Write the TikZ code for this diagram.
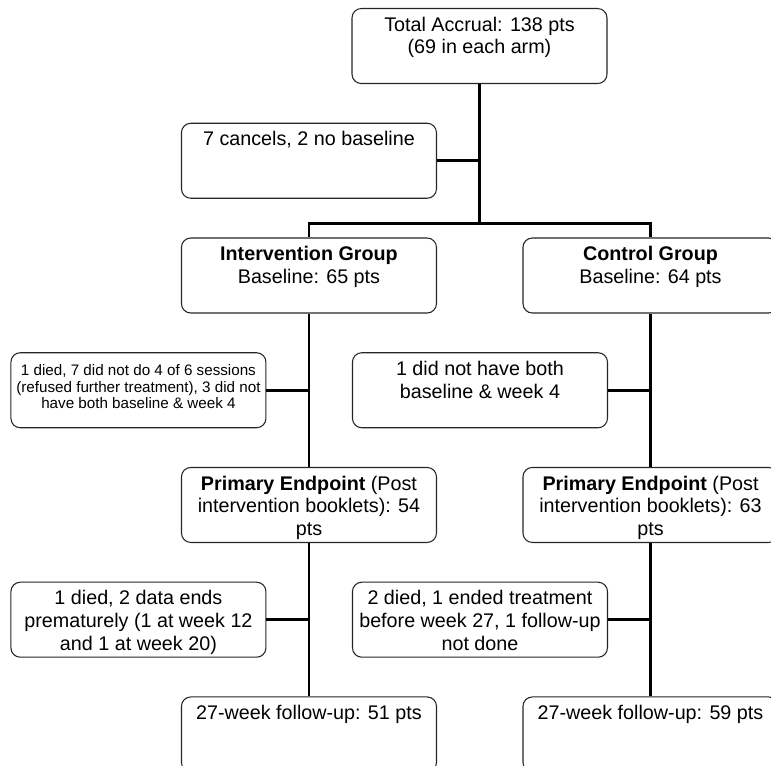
\documentclass[tikz,border=0pt]{standalone}
\usepackage{fontspec}
\setmainfont{Liberation Sans}
\usetikzlibrary{positioning}

\newcommand{\bigtxt}{\fontsize{14.8pt}{17pt}\selectfont}
\newcommand{\smalltxt}{\fontsize{11.4pt}{12.5pt}\selectfont}
\newcommand{\stacklines}[1]{\begin{tabular}[t]{@{}c@{}}#1\end{tabular}}

\begin{document}
\begin{tikzpicture}[
    x=0.75pt, y=-0.75pt,
    node distance=29pt,
    stage/.style={draw=black!85, line width=0.8pt, rounded corners=7pt, fill=white,
      minimum width=191.25pt, minimum height=56.25pt, inner xsep=2pt, inner ysep=6pt,
      text height=11pt, text depth=33.25pt, font=\bigtxt},
    link/.style={line width=2pt},
    toleft/.style={xshift=-127.9pt},
    toright/.style={xshift=127.9pt}
  ]
    \useasboundingbox (0,0) rectangle (771,766);
    \clip (0,0) rectangle (771,766);

    \node[stage, anchor=north] (total) at (479.5,8) {\stacklines{Total Accrual: 138 pts\\(69 in each arm)}};
    \node[stage, below=of total, toleft] (cancels) {7 cancels, 2 no baseline};
    \node[stage, below=of cancels] (interv) {\stacklines{\textbf{Intervention Group}\\Baseline: 65 pts}};
    \node[stage, right=64.1pt of interv] (control) {\stacklines{\textbf{Control Group}\\Baseline: 64 pts}};
    \node[stage, font=\smalltxt, below=of interv, toleft] (dropA) {\stacklines{1 died, 7 did not do 4 of 6 sessions\\(refused further treatment), 3 did not\\have both baseline \& week 4}};
    \node[stage, below=of control, toleft] (dropB) {\stacklines{1 did not have both\\baseline \& week 4}};
    \node[stage, below=of dropA, toright] (primA) {\stacklines{\textbf{Primary Endpoint} (Post\\intervention booklets): 54\\pts}};
    \node[stage, below=of dropB, toright] (primB) {\stacklines{\textbf{Primary Endpoint} (Post\\intervention booklets): 63\\pts}};
    \node[stage, below=of primA, toleft] (dropC) {\stacklines{1 died, 2 data ends\\prematurely (1 at week 12\\and 1 at week 20)}};
    \node[stage, below=of primB, toleft] (dropD) {\stacklines{2 died, 1 ended treatment\\before week 27, 1 follow-up\\not done}};
    \node[stage, below=of dropC, toright] (fuA) {27-week follow-up: 51 pts};
    \node[stage, below=of dropD, toright] (fuB) {27-week follow-up: 59 pts};

    \coordinate[above=10.5pt of interv.north] (forkL);
    \draw[link] (total.south) -- (total.south |- forkL);
    \draw[link] (cancels.east) -- (cancels.east -| total.south);
    \draw[link] (interv.north) -- (forkL) -- (forkL -| control.north) -- (control.north);

    \draw[link] (interv) -- (primA);
    \draw[link] (dropA.east) -- (dropA.east -| interv.south);
    \draw[link] (control) -- (primB);
    \draw[link] (dropB.east) -- (dropB.east -| control.south);
    \draw[link] (primA) -- (fuA);
    \draw[link] (dropC.east) -- (dropC.east -| primA.south);
    \draw[link] (primB) -- (fuB);
    \draw[link] (dropD.east) -- (dropD.east -| primB.south);
\end{tikzpicture}
\end{document}
